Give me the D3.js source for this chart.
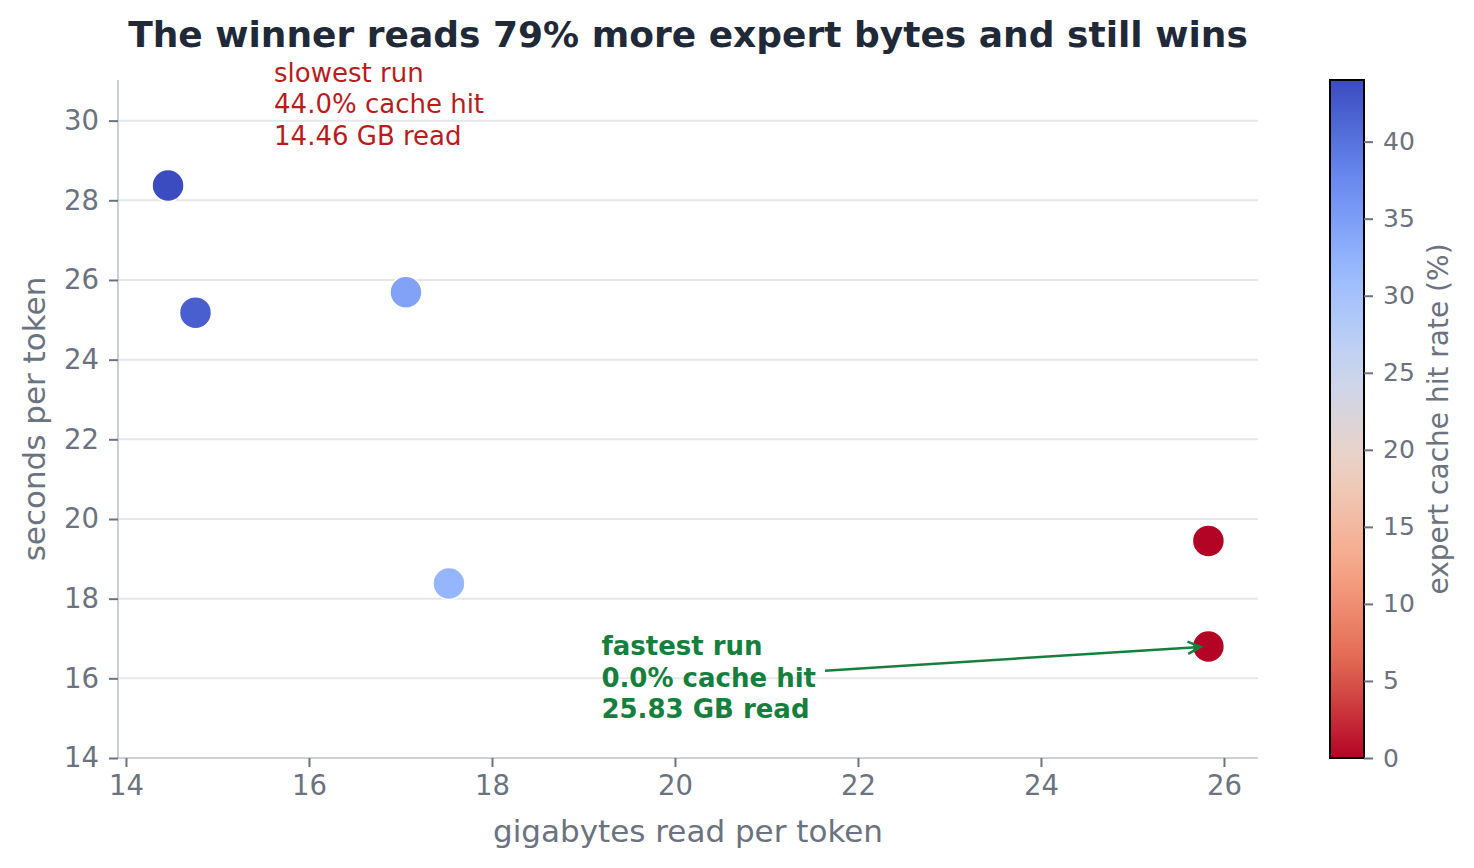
<!DOCTYPE html>
<html>
<head>
<meta charset="utf-8">
<script src="https://cdn.jsdelivr.net/npm/d3@7"></script>
<style>
  body { margin: 0; background: #fff; }
  svg { font-family: "DejaVu Sans", sans-serif; }
</style>
</head>
<body>
<svg width="1474" height="868"></svg>
<script>
// data
const gbRead = [14.46, 14.76, 17.06, 17.53, 25.83, 25.83];
const secPerToken = [28.37, 25.18, 25.69, 18.38, 19.45, 16.80];
const cacheHit = [44.0, 42.0, 34.5, 32.0, 0.0, 0.0];
const xTicks = [14, 16, 18, 20, 22, 24, 26];
const yTicks = [14, 16, 18, 20, 22, 24, 26, 28, 30];
const cbTicks = [0, 5, 10, 15, 20, 25, 30, 35, 40];
const slowest = { idx: 0, lines: ["slowest run", "44.0% cache hit", "14.46 GB read"] };
const fastest = { idx: 5, lines: ["fastest run", "0.0% cache hit", "25.83 GB read"] };

const points = gbRead.map((g, i) => ({ gb: g, sec: secPerToken[i], hit: cacheHit[i] }));

const margin = { left: 118, top: 80, right: 1258, bottom: 758 };
const gray = "#6b7280";

const svg = d3.select("svg");

// coolwarm, reversed so low hit rate is red
const coolwarm = d3.piecewise(d3.interpolateRgb, ["#3b4cc0", "#6788ee", "#9abbff", "#c9d7f0", "#edd1c2", "#f7a889", "#e26952", "#b40426"]);
const color = d3.scaleSequential(t => coolwarm(1 - t)).domain([0, 44]);

const x = d3.scaleLinear().domain([13.913, 26.372]).range([margin.left, margin.right]);
const y = d3.scaleLinear().domain([14, 31.02]).range([margin.bottom, margin.top]);

// grid
svg.append("g").selectAll("line")
  .data(yTicks)
  .enter().append("line")
  .attr("x1", margin.left).attr("x2", margin.right)
  .attr("y1", d => y(d)).attr("y2", d => y(d))
  .attr("stroke", "#e5e7eb").attr("stroke-width", 2);

// axes
const xAxis = svg.append("g")
  .attr("transform", `translate(0, ${margin.bottom})`)
  .call(d3.axisBottom(x).tickValues(xTicks).tickFormat(d3.format("d")).tickSize(9).tickPadding(8));
const yAxis = svg.append("g")
  .attr("transform", `translate(${margin.left}, 0)`)
  .call(d3.axisLeft(y).tickValues(yTicks).tickFormat(d3.format("d")).tickSize(9).tickPadding(10));

[xAxis, yAxis].forEach(ax => {
  ax.select(".domain").attr("stroke", "#cbd0d8").attr("stroke-width", 2);
  ax.selectAll(".tick line").attr("stroke", gray).attr("stroke-width", 2);
  ax.selectAll(".tick text").attr("fill", gray).attr("font-size", "27.5px").attr("font-family", "DejaVu Sans");
});
xAxis.select(".domain").attr("d", `M${margin.left},0H${margin.right}`);
yAxis.select(".domain").attr("d", `M0,${margin.bottom}V${margin.top}`);

// axis labels
svg.append("text")
  .attr("x", (margin.left + margin.right) / 2)
  .attr("y", 842)
  .attr("text-anchor", "middle")
  .attr("font-size", "31px")
  .attr("fill", gray)
  .text("gigabytes read per token");

svg.append("text")
  .attr("transform", `translate(45, ${(margin.top + margin.bottom) / 2}) rotate(-90)`)
  .attr("text-anchor", "middle")
  .attr("font-size", "31px")
  .attr("fill", gray)
  .text("seconds per token");

// title
svg.append("text")
  .attr("x", 688)
  .attr("y", 47)
  .attr("text-anchor", "middle")
  .attr("font-size", "36px")
  .attr("font-weight", "bold")
  .attr("fill", "#1f2937")
  .text("The winner reads 79% more expert bytes and still wins");

// points
svg.append("g").selectAll("circle")
  .data(points)
  .enter().append("circle")
  .attr("cx", d => x(d.gb))
  .attr("cy", d => y(d.sec))
  .attr("r", 16)
  .attr("fill", d => color(d.hit))
  .attr("stroke", "#fff")
  .attr("stroke-width", 1.5);

// slowest annotation
const sp = points[slowest.idx];
const slowText = svg.append("text")
  .attr("x", x(sp.gb) + 106)
  .attr("y", y(sp.sec) - 104)
  .attr("font-size", "26px")
  .attr("fill", "#b91c1c");
slowText.selectAll("tspan")
  .data(slowest.lines)
  .enter().append("tspan")
  .attr("x", x(sp.gb) + 106)
  .attr("dy", (d, i) => i === 0 ? 0 : 31.5)
  .text(d => d);

// fastest annotation with arrow
const fp = points[fastest.idx];
const tx = x(fp.gb) - 607, ty = y(fp.sec) + 9;
const fastText = svg.append("text")
  .attr("x", tx)
  .attr("y", ty)
  .attr("font-size", "26px")
  .attr("font-weight", "bold")
  .attr("fill", "#15803d");
fastText.selectAll("tspan")
  .data(fastest.lines)
  .enter().append("tspan")
  .attr("x", tx)
  .attr("dy", (d, i) => i === 0 ? 0 : 31.5)
  .text(d => d);

const bb = fastText.node().getBBox();
const cx0 = bb.x + bb.width / 2, cy0 = bb.y + bb.height / 2;
const ex = x(fp.gb), ey = y(fp.sec);
const sx = bb.x + bb.width + 9;
const sy = cy0 + (ey - cy0) * (sx - cx0) / (ex - cx0);
const ang = Math.atan2(ey - sy, ex - sx);
const endX = ex - 8 * Math.cos(ang), endY = ey - 8 * Math.sin(ang);
const green = "#15803d";
svg.append("line")
  .attr("x1", sx).attr("y1", sy).attr("x2", endX).attr("y2", endY)
  .attr("stroke", green).attr("stroke-width", 2.5);
const hl = 14, hw = 0.45;
svg.append("path")
  .attr("d", `M${endX - hl * Math.cos(ang - hw)},${endY - hl * Math.sin(ang - hw)}L${endX},${endY}L${endX - hl * Math.cos(ang + hw)},${endY - hl * Math.sin(ang + hw)}`)
  .attr("fill", "none").attr("stroke", green).attr("stroke-width", 2.5);

// colorbar
const cb = { x: 1330, w: 34, top: 80, bottom: 758 };
const cy = d3.scaleLinear().domain([0, 44]).range([cb.bottom, cb.top]);
const defs = svg.append("defs");
const grad = defs.append("linearGradient")
  .attr("id", "cbgrad")
  .attr("x1", 0).attr("y1", 1).attr("x2", 0).attr("y2", 0);
d3.range(0, 1.0001, 0.05).forEach(t => {
  grad.append("stop").attr("offset", t).attr("stop-color", color(t * 44));
});
svg.append("rect")
  .attr("x", cb.x).attr("y", cb.top)
  .attr("width", cb.w).attr("height", cb.bottom - cb.top)
  .attr("fill", "url(#cbgrad)")
  .attr("stroke", "#000").attr("stroke-width", 2);

const cbAxis = svg.append("g")
  .attr("transform", `translate(${cb.x + cb.w}, 0)`)
  .call(d3.axisRight(cy).tickValues(cbTicks).tickFormat(d3.format("d")).tickSize(9).tickPadding(10));
cbAxis.select(".domain").remove();
cbAxis.selectAll(".tick line").attr("stroke", gray).attr("stroke-width", 2);
cbAxis.selectAll(".tick text").attr("fill", gray).attr("font-size", "25px").attr("font-family", "DejaVu Sans");

svg.append("text")
  .attr("transform", `translate(1448, ${(cb.top + cb.bottom) / 2}) rotate(-90)`)
  .attr("text-anchor", "middle")
  .attr("font-size", "28px")
  .attr("fill", gray)
  .text("expert cache hit rate (%)");
</script>
</body>
</html>
